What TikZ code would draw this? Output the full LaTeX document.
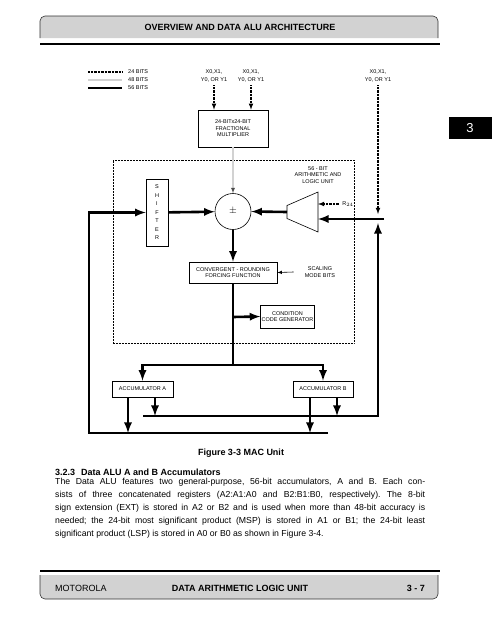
\documentclass[tikz,border=0pt]{standalone}
\usepackage{fontspec}
\setmainfont{Liberation Sans}
\usepackage{tikz}
\usetikzlibrary{arrows,shapes,positioning}
\frenchspacing
\newcommand{\figfont}{\fontsize{5.5bp}{6.6bp}\selectfont}
\newcommand{\txtfont}{\fontsize{8.7bp}{12.9bp}\selectfont}
\newcommand{\hdfont}{\bfseries\fontsize{9bp}{10bp}\selectfont}

\begin{document}
\begin{tikzpicture}[
  blk/.style={draw,line width=0.6bp,fill=white,font=\figfont,align=center,inner sep=1bp},
  lbl/.style={font=\figfont,align=center,inner sep=0pt},
  w24/.style={line width=1.1bp,dash pattern=on 0.7bp off 0.7bp},
  w48/.style={draw=gray!60!black,double=gray!35,double distance=1.3bp,line width=0.5bp},
  w56/.style={line width=2.6bp},
  fine/.style={line width=0.6bp},
  bar/.style={fill=gray!35,draw=gray!40!black,line width=0.6bp,rounded corners=5bp}
]
\useasboundingbox (0bp,0bp) rectangle (498bp,-640bp);

% page header
\path [bar] (40bp,-38bp) -- (40bp,-16bp) -- (438bp,-16bp) -- (438bp,-38bp);
\node (Hd) at (240bp,-27bp)[font=\hdfont] {OVERVIEW AND DATA ALU ARCHITECTURE};
\draw [line width=2bp] (40bp,-44bp) -- (440bp,-44bp);
\node (Tab) at (470bp,-128bp)[fill=black,text=white,minimum width=43bp,minimum height=22bp,font=\fontsize{13bp}{13bp}\selectfont] {3};

% legend
\node (L24) at (128bp,-72bp)[lbl,anchor=west] {24 BITS};
\node (L48) at (128bp,-80bp)[lbl,anchor=west] {48 BITS};
\node (L56) at (128bp,-88bp)[lbl,anchor=west] {56 BITS};
\draw [w24] ([xshift=-40bp]L24.west) -- ([xshift=-6bp]L24.west);
\draw [w48] ([xshift=-40bp]L48.west) -- ([xshift=-6bp]L48.west);
\draw [w56] ([xshift=-40bp]L56.west) -- ([xshift=-6bp]L56.west);

% blocks
\node (AluBox) at (233.5bp,-251.5bp)[draw,densely dotted,line width=0.5bp,minimum width=241bp,minimum height=183bp] {};
\node (InA) at (214bp,-76bp)[lbl] {X0,X1,\\[1.4bp]Y0, OR Y1};
\node (InB) at (251bp,-76bp)[lbl] {X0,X1,\\[1.4bp]Y0, OR Y1};
\node (InC) at (378bp,-76bp)[lbl] {X0,X1,\\[1.4bp]Y0, OR Y1};
\node (Mul) at (233bp,-128.5bp)[blk,minimum width=70bp,minimum height=37bp] {24-BITx24-BIT\\FRACTIONAL\\MULTIPLIER};
\node (Sum) at (233bp,-211.5bp)[draw,circle,fill=white,line width=0.6bp,minimum size=36bp,inner sep=0pt] {$\pm$};
\node (Shf) at (157bp,-212.5bp)[blk,font=\fontsize{5.5bp}{8.5bp}\selectfont,minimum width=22bp,minimum height=67bp] {S\\H\\I\\F\\T\\E\\R};
% ALU as a trapezoid, narrow side left
\draw [fine,fill=white] (287bp,-205.5bp) -- (318bp,-192bp) -- (318bp,-232bp) -- (287bp,-218.5bp) -- cycle;
\coordinate (AluL) at (287bp,-212bp);
\coordinate (AluR) at (318bp,-212bp);
\node (AluT) at (318bp,-175bp)[lbl] {56 - BIT\\ARITHMETIC AND\\LOGIC UNIT};
\node (R24) at (348bp,-204bp)[lbl] {R$_{24}$};
\node (Cnv) at (233bp,-272.5bp)[blk,minimum width=88bp,minimum height=21bp] {CONVERGENT - ROUNDING\\FORCING FUNCTION};
\node (Scl) at (320bp,-272bp)[lbl] {SCALING\\MODE BITS};
\node (Ccg) at (287.5bp,-316.5bp)[blk,minimum width=51bp,minimum height=23bp] {CONDITION\\CODE GENERATOR};
\node (AccA) at (142.5bp,-389bp)[blk,minimum width=61bp,minimum height=16bp] {ACCUMULATOR A};
\node (AccB) at (323bp,-389bp)[blk,minimum width=60bp,minimum height=16bp] {ACCUMULATOR B};

\coordinate (Jr) at (378bp,-219bp);
\coordinate (Jm) at (233bp,-317bp);
\coordinate (Js) at (233bp,-365bp);
\coordinate (Lb) at (89bp,-433bp);
\coordinate (Lbe) at (328bp,-433bp);
\coordinate (Lu) at (143bp,-416bp);

% connectors
\draw [w24,-latex] ([yshift=-3bp]InA.south) -- (InA |- Mul.north);
\draw [w24,-latex] ([yshift=-3bp]InB.south) -- (InB |- Mul.north);
\draw [w24,-latex] ([yshift=-3bp]InC.south) -- ([yshift=5bp]Jr);
\draw [w48,-latex] (Mul) -- (Sum);
\draw [w56,-latex] (Shf) -- (Sum);
\draw [w56,-latex] (AluL) -- (Sum.east);
\draw [w56,-latex] ([xshift=6bp]Jr) -- (Jr -| AluR);
\draw [w24,-latex] ([xshift=-3bp]R24.west) -- (R24.west -| AluR);
\draw [w56,-latex] (Sum) -- (Cnv);
\draw [fine,-latex] ([xshift=-11bp]Scl.west) -- (Cnv.east);
\draw [w56] (Cnv) -- (Js);
\draw [w56,-latex] (Jm) -- (Ccg.west);
\draw [w56,-latex] (Js) -| (AccA);
\draw [w56,-latex] (Js) -| (AccB);
\draw [w56,-latex] (Lbe) -- (Lb) |- (Shf.west);
\draw [w56,-latex] (Lu) -| ([yshift=-4bp]Jr);
\draw [w56,-latex] ([xshift=-14.5bp]AccA.south) -- ([xshift=-14.5bp]AccA.south |- Lb);
\draw [w56,-latex] ([xshift=12.5bp]AccA.south) -- ([xshift=12.5bp]AccA.south |- Lu);
\draw [w56,-latex] ([xshift=-13bp]AccB.south) -- ([xshift=-13bp]AccB.south |- Lb);
\draw [w56,-latex] ([xshift=14bp]AccB.south) -- ([xshift=14bp]AccB.south |- Lu);

% caption and text
\node (Cap) at (241bp,-453bp)[font=\hdfont] {Figure 3-3 MAC Unit};
\node (Sec) at (55bp,-472bp)[anchor=west,inner sep=0pt,font=\hdfont] {3.2.3\hspace{6bp}Data ALU A and B Accumulators};
\node (Par) at (55bp,-478bp)[anchor=north west,inner sep=0pt,align=left,font=\txtfont] {%
\makebox[370bp][s]{The Data ALU features two general-purpose, 56-bit accumulators, A and B. Each con-}\\
\makebox[370bp][s]{sists of three concatenated registers (A2:A1:A0 and B2:B1:B0, respectively). The 8-bit}\\
\makebox[370bp][s]{sign extension (EXT) is stored in A2 or B2 and is used when more than 48-bit accuracy is}\\
\makebox[370bp][s]{needed; the 24-bit most significant product (MSP) is stored in A1 or B1; the 24-bit least}\\
significant product (LSP) is stored in A0 or B0 as shown in Figure 3-4.};

% page footer
\draw [line width=2.5bp] (40bp,-571bp) -- (440bp,-571bp);
\path [bar] (40bp,-575bp) -- (40bp,-599bp) -- (438bp,-599bp) -- (438bp,-575bp);
\node (Ft1) at (55bp,-588bp)[anchor=west,inner sep=0pt,font=\fontsize{9bp}{10bp}\selectfont] {MOTOROLA};
\node (Ft2) at (240bp,-588bp)[font=\hdfont] {DATA ARITHMETIC LOGIC UNIT};
\node (Ft3) at (425bp,-588bp)[anchor=east,inner sep=0pt,font=\hdfont] {3 - 7};
\end{tikzpicture}
\end{document}
